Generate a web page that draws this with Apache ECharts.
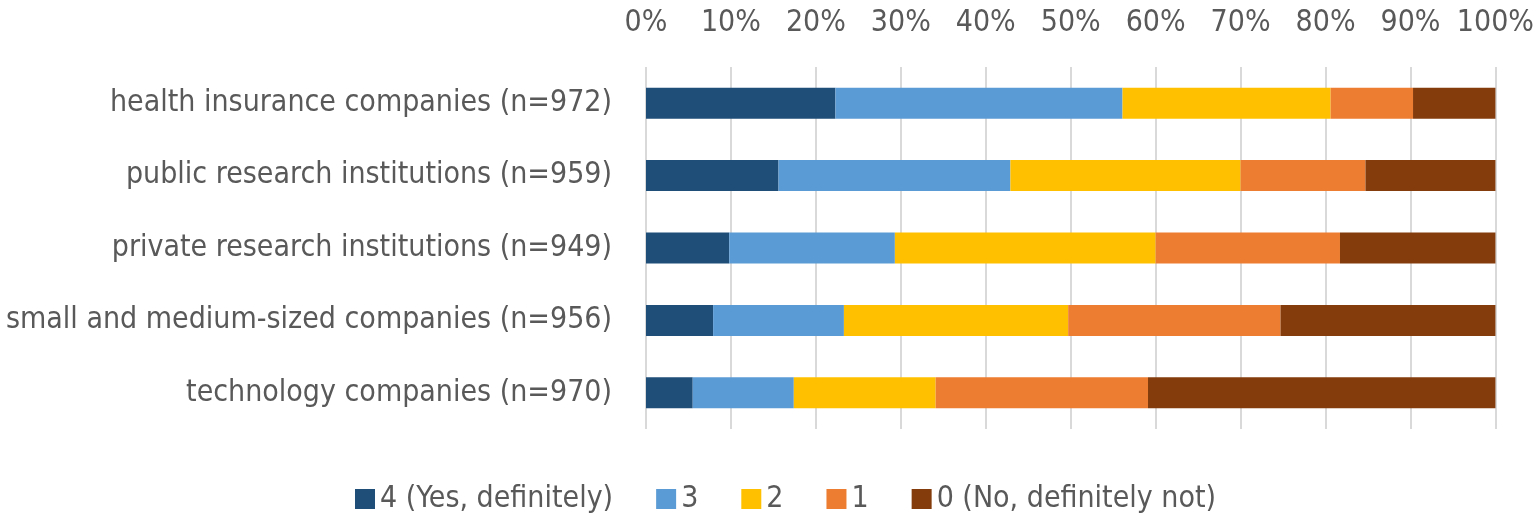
<!DOCTYPE html>
<html>
	<head>
		<meta charset="utf-8" />
		<title></title>
		<script src="https://cdn.jsdelivr.net/npm/echarts@6/dist/echarts.min.js"></script>
		<style>
			html, body { margin: 0; padding: 0; background: #fff; }
		</style>
	</head>
	<body>
		<div id="chart" style="width: 1537px; height: 525px;"></div>
		<script>
		// rows, top to bottom
		var categories = [
			'health insurance companies (n=972)',
			'public research institutions (n=959)',
			'private research institutions (n=949)',
			'small and medium-sized companies (n=956)',
			'technology companies (n=970)'
		];
		// share of answers in %, one array per answer
		var ans4 = [22.3, 15.6, 9.8, 7.9, 5.5];
		var ans3 = [33.8, 27.3, 19.5, 15.4, 11.9];
		var ans2 = [24.5, 27.1, 30.7, 26.4, 16.7];
		var ans1 = [9.7, 14.7, 21.7, 25.0, 25.0];
		var ans0 = [9.7, 15.3, 18.3, 25.3, 40.9];
		var seriesNames = ['4 (Yes, definitely)', '3', '2', '1', '0 (No, definitely not)'];
		var colors = ['#1F4E79', '#5B9BD5', '#FFC000', '#ED7D31', '#843C0C'];

		var font = '"Liberation Sans Narrow", "DejaVu Sans Condensed", sans-serif';
		var textColor = '#595959';

		var chart = echarts.init(document.getElementById('chart'));
		var allData = [ans4, ans3, ans2, ans1, ans0];

		var series = [];
		for (var i = 0; i < seriesNames.length; i++) {
			series.push({
				name: seriesNames[i],
				type: 'bar',
				stack: 'total',
				barWidth: 31,
				itemStyle: { color: colors[i] },
				data: allData[i]
			});
		}

		var option = {
			animation: false,
			color: colors,
			textStyle: { fontFamily: font },
			grid: {
				left: 646,
				right: 39,
				top: 67,
				bottom: 96
			},
			legend: {
				bottom: 6,
				left: 350,
				itemWidth: 20,
				itemHeight: 20,
				itemGap: 43,
				icon: 'rect',
				textStyle: { color: textColor, fontSize: 30, fontFamily: font },
				data: seriesNames
			},
			xAxis: {
				type: 'value',
				position: 'top',
				min: 0,
				max: 100,
				interval: 10,
				axisLine: { show: false },
				axisTick: { show: false },
				axisLabel: {
					formatter: '{value}%',
					color: textColor,
					fontSize: 30,
					margin: 29,
					fontFamily: font
				},
				splitLine: { lineStyle: { color: '#D9D9D9', width: 2 } }
			},
			yAxis: {
				type: 'category',
				inverse: true,
				data: categories,
				axisLine: { show: false },
				axisTick: { show: false },
				axisLabel: {
					color: textColor,
					fontSize: 30,
					margin: 34,
					fontFamily: font
				}
			},
			series: series
		};
		chart.setOption(option);
		</script>
	</body>
</html>
